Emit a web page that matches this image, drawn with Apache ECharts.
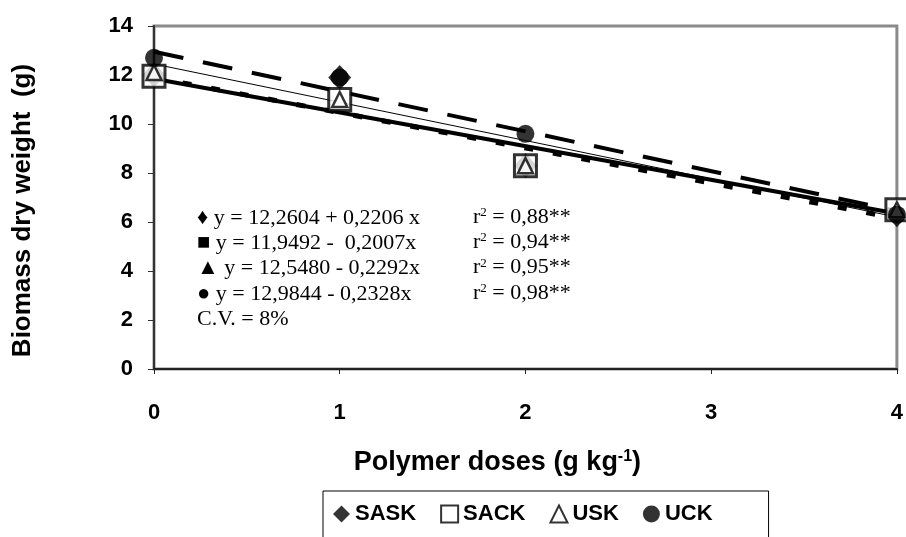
<!DOCTYPE html>
<html>
<head>
<meta charset="utf-8">
<script src="https://cdn.jsdelivr.net/npm/echarts@6/dist/echarts.min.js"></script>
<style>
  html, body { margin: 0; padding: 0; background: #fff; }
  #main { width: 906px; height: 537px; }
</style>
</head>
<body>
<div id="main"></div>
<script>
// doses on the x axis
var doses = [0, 1, 2, 4]
// observed means
var sask = [12.0, 11.9, 8.3, 6.3]
var sack = [11.95, 11.0, 8.3, 6.5]
var usk = [12.1, 11.0, 8.3, 6.5]
var uck = [12.7, 11.9, 9.6, 6.3]
// regression lines, start and end values
var lineX = [0, 4]
var fitSask = [12.45, 6.2]
var fitSack = [11.9, 6.15]
var fitUsk = [11.85, 6.35]
var fitUck = [12.95, 6.45]
// equations box
var eqMarks = ['♦', '■', '▲', '●']
var eqText = ['y = 12,2604 + 0,2206 x', 'y = 11,9492 -  0,2007x', 'y = 12,5480 - 0,2292x', 'y = 12,9844 - 0,2328x']
var r2 = ['0,88**', '0,94**', '0,95**', '0,98**']
var cvText = 'C.V. = 8%'

function pairs(xs, ys) {
  return xs.map(function (x, i) { return [x, ys[i]] })
}

var serif = '"Liberation Serif", "Times New Roman", serif'
var sans = '"Liberation Sans", Arial, sans-serif'

var graphics = []
eqText.forEach(function (t, i) {
  var y = 207 + i * 25.3
  graphics.push({
    type: 'text', left: 197, top: y,
    style: { text: eqMarks[i] + ' ' + t, font: '22px ' + serif, fill: '#000' }
  })
  graphics.push({
    type: 'text', left: 473, top: y - 1,
    style: {
      text: '{r|r}{s|2}{r| = ' + r2[i] + '}',
      rich: {
        r: { font: '22px ' + serif, fill: '#000', verticalAlign: 'bottom' },
        s: { font: '13px ' + serif, fill: '#000', verticalAlign: 'top', padding: [0, 0, 9, 0] }
      }
    }
  })
})
graphics.push({
  type: 'text', left: 197, top: 308,
  style: { text: cvText, font: '22px ' + serif, fill: '#000' }
})

var myChart = echarts.init(document.getElementById('main'))
var option = {
  animation: false,
  backgroundColor: '#fff',
  grid: {
    left: 154, top: 26, width: 746, height: 343,
    show: true, borderColor: '#8a8a8a', borderWidth: 3, backgroundColor: 'transparent'
  },
  legend: {
    data: ['SASK', 'SACK', 'USK', 'UCK'],
    left: 323, top: 491,
    padding: [12, 56, 14, 10],
    borderColor: '#000', borderWidth: 1,
    itemGap: 24, itemWidth: 17, itemHeight: 17,
    textStyle: { fontFamily: sans, fontWeight: 'bold', fontSize: 22, color: '#000' }
  },
  xAxis: {
    type: 'value', min: 0, max: 4, interval: 1,
    axisLine: { lineStyle: { color: '#222', width: 2 } },
    axisTick: { length: 5, lineStyle: { color: '#222' } },
    splitLine: { show: false },
    axisLabel: { margin: 33, color: '#000', fontFamily: sans, fontWeight: 'bold', fontSize: 22 },
    name: '{t|Polymer doses (g kg}{s|-1}{t|)}',
    nameLocation: 'middle', nameGap: 80,
    nameTextStyle: {
      padding: [0, 56, 0, 0],
      rich: {
        t: { fontFamily: sans, fontWeight: 'bold', fontSize: 27, color: '#000' },
        s: { fontFamily: sans, fontWeight: 'bold', fontSize: 16, color: '#000', verticalAlign: 'top', padding: [0, 0, 12, 0] }
      }
    }
  },
  yAxis: {
    type: 'value', min: 0, max: 14, interval: 2,
    axisLine: { lineStyle: { color: '#333', width: 2 } },
    axisTick: { length: 6, lineStyle: { color: '#333' } },
    splitLine: { show: false },
    axisLabel: { margin: 21, color: '#000', fontFamily: sans, fontWeight: 'bold', fontSize: 22 },
    name: 'Biomass dry weight  (g)',
    nameLocation: 'middle', nameGap: 118, nameRotate: 90,
    nameTextStyle: { fontFamily: sans, fontWeight: 'bold', fontSize: 26, color: '#000', padding: [0, 26, 0, 0] }
  },
  graphic: graphics,
  series: [
    {
      name: 'fit UCK', type: 'line', data: pairs(lineX, fitUck), symbol: 'none',
      lineStyle: { color: '#000', width: 4, type: [30, 20] }, z: 2
    },
    {
      name: 'fit SASK', type: 'line', data: pairs(lineX, fitSask), symbol: 'none',
      lineStyle: { color: '#000', width: 1 }, z: 2
    },
    {
      name: 'fit SACK', type: 'line', data: pairs(lineX, fitSack), symbol: 'none',
      lineStyle: { color: '#000', width: 5, type: [9, 20] }, z: 2
    },
    {
      name: 'fit USK', type: 'line', data: pairs(lineX, fitUsk), symbol: 'none',
      lineStyle: { color: '#000', width: 4 }, z: 2
    },
    {
      name: 'SASK', type: 'scatter', data: pairs(doses, sask), symbol: 'diamond', symbolSize: [23, 25],
      itemStyle: { color: '#000' }, z: 3
    },
    {
      name: 'SACK', type: 'scatter', data: pairs(doses, sack), symbol: 'rect', symbolSize: 22,
      itemStyle: { color: '#fff', borderColor: '#000', borderWidth: 3 }, z: 4
    },
    {
      name: 'USK', type: 'scatter', data: pairs(doses, usk), symbol: 'triangle', symbolSize: 15,
      itemStyle: { color: '#fff', borderColor: '#000', borderWidth: 2.5 }, z: 5
    },
    {
      name: 'UCK', type: 'scatter', data: pairs(doses, uck), symbol: 'circle', symbolSize: 18,
      itemStyle: { color: '#000' }, z: 6
    }
  ]
}
myChart.setOption(option)
</script>
</body>
</html>
